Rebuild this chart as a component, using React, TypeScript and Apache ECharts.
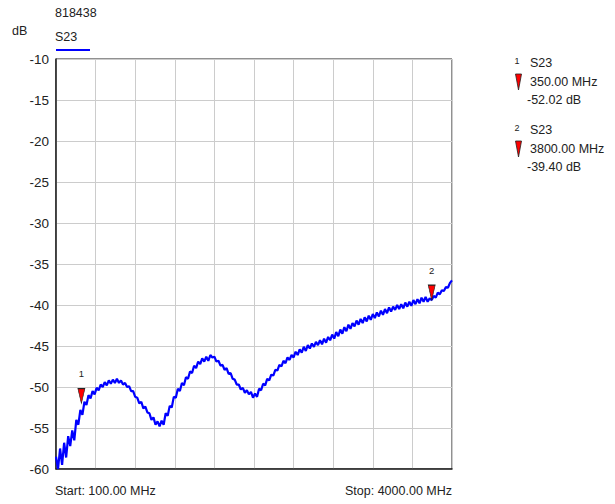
import React, { useEffect, useRef } from "react";
import * as echarts from "echarts";

const TRACE_ID = "818438";
const TRACE_NAME = "S23";
const START_MHZ = 100;
const STOP_MHZ = 4000;
const Y_MIN = -60;
const Y_MAX = -10;
const Y_STEP = 5;
const X_DIVISIONS = 10;

// S23 sweep, 20 MHz per point, 100 .. 4000 MHz
const S23_DB = [
  -58.5, -60.0, -57.5, -59.5, -56.8, -58.6, -56.0, -57.2, -55.3, -56.5,
  -54.0, -54.6, -52.8, -53.4, -51.8, -52.2, -51.0, -51.4, -50.5, -50.9,
  -50.1, -50.4, -49.7, -50.0, -49.4, -49.8, -49.2, -49.6, -49.1, -49.5,
  -49.0, -49.5, -49.2, -49.7, -49.5, -50.0, -49.9, -50.5, -50.5, -51.2,
  -51.3, -52.0, -51.8, -52.6, -52.4, -53.1, -53.2, -54.0, -53.7, -54.6,
  -54.2, -54.8, -54.1, -54.6, -53.2, -53.5, -52.3, -52.5, -51.2, -51.3,
  -50.2, -50.5, -49.5, -49.8, -48.8, -49.0, -48.1, -48.3, -47.4, -47.7,
  -46.9, -47.2, -46.5, -46.9, -46.3, -46.8, -46.1, -46.4, -46.3, -46.9,
  -46.8, -47.4, -47.3, -47.9, -47.7, -48.4, -48.3, -49.0, -49.1, -49.7,
  -49.7, -50.3, -50.1, -50.7, -50.4, -50.9, -50.6, -51.3, -50.8, -51.2,
  -50.2, -50.4, -49.6, -49.8, -49.0, -49.2, -48.5, -48.6, -47.9, -48.0,
  -47.3, -47.5, -46.8, -47.1, -46.4, -46.7, -46.1, -46.4, -45.7, -46.1,
  -45.4, -45.8, -45.1, -45.6, -44.9, -45.3, -44.7, -45.1, -44.5, -44.9,
  -44.3, -44.8, -44.1, -44.6, -43.9, -44.3, -43.6, -44.1, -43.3, -43.8,
  -43.0, -43.5, -42.7, -43.2, -42.4, -42.9, -42.2, -42.6, -41.9, -42.4,
  -41.7, -42.2, -41.5, -42.0, -41.3, -41.8, -41.1, -41.6, -40.9, -41.4,
  -40.7, -41.2, -40.5, -41.0, -40.3, -40.8, -40.2, -40.6, -40.0, -40.5,
  -39.9, -40.4, -39.7, -40.2, -39.6, -40.1, -39.4, -39.9, -39.3, -39.8,
  -39.1, -39.6, -39.0, -39.6, -39.2, -39.4, -38.9, -39.1, -38.5, -38.7,
  -38.2, -38.3, -37.8, -37.9, -37.3, -37.0,
];

const MARKER_IDS = ["1", "2"];
const MARKER_FREQS = [350, 3800];
const MARKER_DB = [-52.02, -39.4];

const FONT = "'Liberation Sans', Arial, sans-serif";
const TXT = "#222";
const TRI = "path://M0,0 L10,0 L5,24 Z";

export default function App() {
  const ref = useRef<HTMLDivElement>(null);

  useEffect(() => {
    if (!ref.current) return;
    const chart = echarts.init(ref.current, undefined, { renderer: "svg" });
    const step = (STOP_MHZ - START_MHZ) / (S23_DB.length - 1);
    const data = S23_DB.map((v, i) => [START_MHZ + i * step, v]);

    const legendEls: any[] = [];
    MARKER_IDS.forEach((id, k) => {
      const y0 = 61 + k * 67;
      legendEls.push(
        { type: "text", x: 517, y: y0, style: { text: id, font: `9px ${FONT}`, fill: TXT, textAlign: "center", textVerticalAlign: "middle" } },
        { type: "text", x: 530, y: y0 + 2, style: { text: TRACE_NAME, font: `12.5px ${FONT}`, fill: TXT, textVerticalAlign: "middle" } },
        { type: "polygon", shape: { points: [[515.5, y0 + 13], [521.5, y0 + 13], [518.5, y0 + 29]] }, style: { fill: "#ff0000", stroke: "#222", lineWidth: 0.8 } },
        { type: "text", x: 530, y: y0 + 21, style: { text: `${MARKER_FREQS[k].toFixed(2)} MHz`, font: `12.5px ${FONT}`, fill: TXT, textVerticalAlign: "middle" } },
        { type: "text", x: 527, y: y0 + 39, style: { text: `${MARKER_DB[k].toFixed(2)} dB`, font: `12.5px ${FONT}`, fill: TXT, textVerticalAlign: "middle" } }
      );
    });

    chart.setOption({
      animation: false,
      backgroundColor: "#ffffff",
      grid: { left: 56, right: 163, top: 59, bottom: 35, show: true, borderColor: "#222", borderWidth: 1 },
      xAxis: [
        {
          type: "value", min: START_MHZ, max: STOP_MHZ,
          axisLine: { show: true, lineStyle: { color: "#222", width: 1.5 } },
          axisTick: { show: false }, axisLabel: { show: false }, splitLine: { show: false },
        },
        {
          type: "value", min: 0, max: X_DIVISIONS, interval: 1, position: "bottom",
          axisLine: { show: false }, axisTick: { show: false }, axisLabel: { show: false },
          splitLine: { show: true, lineStyle: { color: "#cccccc", width: 1 } },
        },
      ],
      yAxis: {
        type: "value", min: Y_MIN, max: Y_MAX, interval: Y_STEP,
        axisLine: { show: true, lineStyle: { color: "#222", width: 1.5 } },
        axisTick: { show: false },
        axisLabel: { color: TXT, fontSize: 13.5, fontFamily: FONT, margin: 7 },
        splitLine: { show: true, lineStyle: { color: "#cccccc", width: 1 } },
      },
      series: [
        {
          type: "line", xAxisIndex: 0, data, showSymbol: false, symbol: "none",
          lineStyle: { color: "#0000ff", width: 2.2 },
          markPoint: {
            symbol: TRI, symbolSize: [7, 15], symbolOffset: [0, -7.5],
            itemStyle: { color: "#ff0000", borderColor: "#222", borderWidth: 0.8 },
            label: { show: true, position: "top", distance: 9, color: TXT, fontSize: 9.5, fontFamily: FONT },
            data: MARKER_IDS.map((id, k) => ({ coord: [MARKER_FREQS[k], MARKER_DB[k]], value: id, label: { formatter: id } })),
          },
        },
      ],
      graphic: [
        { type: "text", x: 55, y: 13, style: { text: TRACE_ID, font: `12.5px ${FONT}`, fill: TXT, textVerticalAlign: "middle" } },
        { type: "text", x: 12, y: 31, style: { text: "dB", font: `12.5px ${FONT}`, fill: TXT, textVerticalAlign: "middle" } },
        { type: "text", x: 55, y: 37, style: { text: TRACE_NAME, font: `12.5px ${FONT}`, fill: TXT, textVerticalAlign: "middle" } },
        { type: "line", shape: { x1: 56, y1: 50, x2: 90, y2: 50 }, style: { stroke: "#0000ff", lineWidth: 2 } },
        { type: "text", x: 55, y: 491, style: { text: `Start: ${START_MHZ.toFixed(2)} MHz`, font: `12.5px ${FONT}`, fill: TXT, textVerticalAlign: "middle" } },
        { type: "text", x: 452, y: 491, style: { text: `Stop: ${STOP_MHZ.toFixed(2)} MHz`, font: `12.5px ${FONT}`, fill: TXT, textAlign: "right", textVerticalAlign: "middle" } },
        ...legendEls,
      ],
    });
    return () => chart.dispose();
  }, []);

  return <div ref={ref} style={{ position: "fixed", left: 0, top: 0, width: 615, height: 504 }} />;
}
